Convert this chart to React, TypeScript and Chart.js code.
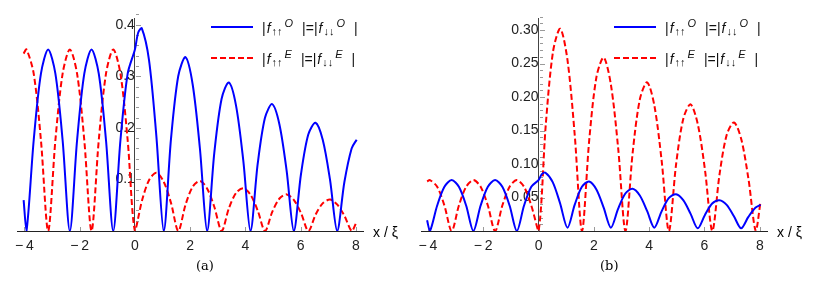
import React, { useEffect, useRef } from 'react';
import { Chart, registerables } from 'chart.js';

Chart.register(...registerables);

// ---------- data ----------
const blueX = [-4.03, -3.927, -3.665, -3.403, -3.142, -2.88, -2.618, -2.356, -2.094, -1.833, -1.571, -1.309, -1.047, -0.785, -0.524, -0.262, 0,
  0.12, 0.25, 0.512, 0.774, 1.045,
  1.306, 1.568, 1.83, 2.092, 2.354, 2.615,
  2.876, 3.138, 3.4, 3.662, 3.924, 4.185,
  4.446, 4.708, 4.97, 5.232, 5.494, 5.755,
  6.016, 6.278, 6.54, 6.802, 7.064, 7.325,
  7.586, 7.848, 8.03];

const redX = [-4.03, -3.927, -3.665, -3.403, -3.142, -2.88, -2.618, -2.356, -2.094, -1.833, -1.571, -1.309, -1.047, -0.785, -0.524, -0.262, 0,
  0.262, 0.524, 0.785, 1.047, 1.309, 1.571,
  1.833, 2.094, 2.356, 2.618, 2.88, 3.142,
  3.403, 3.665, 3.927, 4.189, 4.451, 4.712,
  4.974, 5.236, 5.498, 5.76, 6.021, 6.283,
  6.545, 6.807, 7.069, 7.33, 7.592, 7.854,
  8.03];

// panel (a)
const aBlueY = [0.06, 0, 0.176, 0.305, 0.352, 0.305, 0.176, 0, 0.176, 0.305, 0.352, 0.305, 0.176, 0, 0.176, 0.305, 0.352,
  0.385, 0.393, 0.331, 0.186, 0,
  0.178, 0.3, 0.337, 0.284, 0.16, 0,
  0.152, 0.256, 0.288, 0.243, 0.137, 0,
  0.13, 0.219, 0.246, 0.207, 0.117, 0,
  0.111, 0.187, 0.21, 0.177, 0.1, 0,
  0.095, 0.16, 0.177];

const aRedY = [0.344, 0.352, 0.305, 0.176, 0, 0.176, 0.305, 0.352, 0.305, 0.176, 0, 0.176, 0.305, 0.352, 0.305, 0.176, 0,
  0.06, 0.1, 0.113, 0.095, 0.054, 0,
  0.051, 0.086, 0.097, 0.082, 0.046, 0,
  0.044, 0.074, 0.083, 0.07, 0.039, 0,
  0.037, 0.063, 0.071, 0.06, 0.034, 0,
  0.032, 0.054, 0.061, 0.051, 0.029, 0,
  0.018];

// panel (b)
const bBlueY = [0.016, 0, 0.038, 0.066, 0.076, 0.066, 0.038, 0, 0.038, 0.066, 0.076, 0.066, 0.038, 0, 0.038, 0.066, 0.076,
  0.085, 0.087, 0.073, 0.042, 0.005,
  0.039, 0.066, 0.074, 0.062, 0.035, 0.005,
  0.033, 0.056, 0.063, 0.053, 0.03, 0.005,
  0.029, 0.049, 0.055, 0.046, 0.026, 0.004,
  0.024, 0.041, 0.046, 0.039, 0.022, 0.004,
  0.021, 0.035, 0.039];

const bRedY = [0.074, 0.076, 0.066, 0.038, 0, 0.038, 0.066, 0.076, 0.066, 0.038, 0, 0.038, 0.066, 0.076, 0.066, 0.038, 0,
  0.159, 0.268, 0.302, 0.255, 0.143, 0,
  0.136, 0.23, 0.259, 0.218, 0.123, 0,
  0.117, 0.197, 0.222, 0.187, 0.105, 0,
  0.1, 0.168, 0.189, 0.159, 0.09, 0,
  0.085, 0.144, 0.162, 0.137, 0.077, 0,
  0.045];

// tick labels
const xTicks = [-4, -2, 0, 2, 4, 6, 8];
const aYTicks = [0.1, 0.2, 0.3, 0.4];
const bYTicks = [0.05, 0.1, 0.15, 0.2, 0.25, 0.3];

const BLUE = '#0000ff';
const RED = '#ff0000';
const SANS = "'Liberation Sans', Arial, Helvetica, sans-serif";

const tickPlugin = {
  id: 'axisTicks',
  beforeDatasetsDraw(chart: any, _args: any, opts: any) {
    const { ctx, scales } = chart;
    const xs = scales.x;
    const ys = scales.y;
    const x0 = Math.round(xs.getPixelForValue(0));
    const y0 = Math.round(ys.getPixelForValue(0));
    ctx.save();
    ctx.strokeStyle = '#9a9a9a';
    ctx.lineWidth = 1;
    ctx.beginPath();
    const n = Math.round(ys.max / opts.yMinor);
    for (let k = 1; k <= n; k++) {
      const v = k * opts.yMinor;
      const isMajor = Math.abs(v / opts.yMajor - Math.round(v / opts.yMajor)) < 1e-6;
      const p = Math.round(ys.getPixelForValue(v)) + 0.5;
      ctx.moveTo(x0 + 1, p);
      ctx.lineTo(x0 + 1 + (isMajor ? 5 : 3), p);
    }
    for (const v of xTicks) {
      const p = Math.round(xs.getPixelForValue(v)) + 0.5;
      ctx.moveTo(p, y0);
      ctx.lineTo(p, y0 - 4);
    }
    ctx.stroke();
    ctx.restore();
  },
};

function toPoints(xs: number[], ys: number[]) {
  return xs.map((x, i) => ({ x, y: ys[i] }));
}

type PanelProps = {
  blueY: number[];
  redY: number[];
  xMin: number;
  xMax: number;
  yMax: number;
  yTicks: number[];
  yDecimals: number;
  yMajor: number;
  yMinor: number;
  padding: { left: number; right: number; top: number; bottom: number };
  width: number;
  yLabelPad: number;
};

function Panel(props: PanelProps) {
  const ref = useRef<HTMLCanvasElement | null>(null);
  useEffect(() => {
    if (!ref.current) return;
    const chart = new Chart(ref.current, {
      type: 'line',
      data: {
        datasets: [
          {
            data: toPoints(blueX, props.blueY),
            borderColor: BLUE,
            borderWidth: 2,
            pointRadius: 0,
            tension: 0.3,
            fill: false,
          },
          {
            data: toPoints(redX, props.redY),
            borderColor: RED,
            borderWidth: 2,
            borderDash: [6, 3],
            pointRadius: 0,
            tension: 0.3,
            fill: false,
          },
        ],
      },
      options: {
        animation: false,
        responsive: false,
        devicePixelRatio: 1,
        layout: { padding: props.padding },
        plugins: {
          legend: { display: false },
          tooltip: { enabled: false },
          axisTicks: { yMajor: props.yMajor, yMinor: props.yMinor },
        } as any,
        scales: {
          x: {
            type: 'linear',
            min: props.xMin,
            max: props.xMax,
            position: { y: 0 } as any,
            grid: { display: true, drawOnChartArea: false, drawTicks: false },
            border: { display: true, color: '#222', width: 1 },
            afterBuildTicks: (scale: any) => {
              scale.ticks = xTicks.map((v) => ({ value: v }));
            },
            ticks: {
              autoSkip: false,
              maxRotation: 0,
              padding: 7,
              color: '#222',
              font: { family: SANS, size: 14 },
              callback: (v: any) => (Number(v) < 0 ? '\u2212\u2009' + Math.abs(Number(v)) : String(v)),
            },
          },
          y: {
            type: 'linear',
            min: 0,
            max: props.yMax,
            position: { x: 0 } as any,
            grid: { display: true, drawOnChartArea: false, drawTicks: false },
            border: { display: true, color: '#444', width: 1 },
            afterBuildTicks: (scale: any) => {
              scale.ticks = props.yTicks.map((v) => ({ value: v }));
            },
            ticks: {
              autoSkip: false,
              padding: props.yLabelPad,
              color: '#222',
              font: { family: SANS, size: 14 },
              callback: (v: any) => Number(v).toFixed(props.yDecimals),
            },
          },
        },
      },
      plugins: [tickPlugin],
    });
    return () => chart.destroy();
  }, []);
  return <canvas ref={ref} width={props.width} height={291} style={{ display: 'block', width: props.width, height: 291 }} />;
}

function LegendPart({ s, arrows }: { s: string; arrows: string }) {
  return (
    <>
      |<i style={{ marginLeft: 1, marginRight: 1 }}>f</i>
      <span style={{ fontSize: 11, position: 'relative', top: 2 }}>{arrows}</span>
      <span style={{ fontSize: 11, position: 'relative', top: -6, fontStyle: 'italic', marginLeft: 2, marginRight: 9 }}>{s}</span>|
    </>
  );
}

function LegendLabel({ s }: { s: string }) {
  return (
    <span style={{ fontFamily: SANS, fontSize: 14, whiteSpace: 'nowrap', color: '#111', lineHeight: '16px' }}>
      <LegendPart s={s} arrows={'\u2191\u2191'} />=<LegendPart s={s} arrows={'\u2193\u2193'} />
    </span>
  );
}

function Legend({ left, top }: { left: number; top: number }) {
  return (
    <div style={{ position: 'absolute', left, top, width: 170, height: 50 }}>
      <svg style={{ position: 'absolute', left: 0, top: 0 }} width={44} height={50}>
        <line x1={0} y1={7} x2={42} y2={7} stroke={BLUE} strokeWidth={2} />
        <line x1={0} y1={38} x2={42} y2={38} stroke={RED} strokeWidth={2} strokeDasharray="6 3" />
      </svg>
      <div style={{ position: 'absolute', left: 51, top: -1 }}>
        <LegendLabel s="O" />
      </div>
      <div style={{ position: 'absolute', left: 51, top: 30 }}>
        <LegendLabel s="E" />
      </div>
    </div>
  );
}

export default function App() {
  return (
    <div style={{ position: 'absolute', left: 0, top: 0, width: 821, height: 291, background: '#fff', overflow: 'hidden' }}>
      <div style={{ position: 'absolute', left: 0, top: 0 }}>
        <Panel
          blueY={aBlueY}
          redY={aRedY}
          xMin={-4.27}
          xMax={8.26}
          yMax={0.413}
          yTicks={aYTicks}
          yDecimals={1}
          yMajor={0.1}
          yMinor={0.02}
          padding={{ left: 17, right: 47, top: 18, bottom: 60 }}
          width={410}
          yLabelPad={5}
        />
      </div>
      <div style={{ position: 'absolute', left: 410, top: 0 }}>
        <Panel
          blueY={bBlueY}
          redY={bRedY}
          xMin={-4.25}
          xMax={8.26}
          yMax={0.318}
          yTicks={bYTicks}
          yDecimals={2}
          yMajor={0.05}
          yMinor={0.01}
          padding={{ left: 11, right: 54, top: 18, bottom: 60 }}
          width={411}
          yLabelPad={3}
        />
      </div>
      <Legend left={211} top={20} />
      <Legend left={614} top={20} />
      <div style={{ position: 'absolute', left: 373, top: 224, fontFamily: SANS, fontSize: 14 }}>x / ξ</div>
      <div style={{ position: 'absolute', left: 777, top: 224, fontFamily: SANS, fontSize: 14 }}>x / ξ</div>
      <div style={{ position: 'absolute', left: 196, top: 258, fontFamily: "'DejaVu Serif', 'Liberation Serif', serif", fontSize: 13 }}>(a)</div>
      <div style={{ position: 'absolute', left: 600, top: 258, fontFamily: "'DejaVu Serif', 'Liberation Serif', serif", fontSize: 13 }}>(b)</div>
    </div>
  );
}
